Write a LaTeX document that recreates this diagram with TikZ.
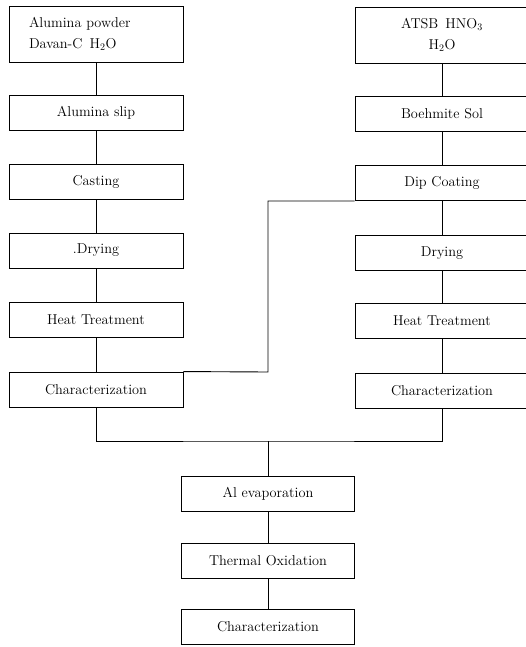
\documentclass[tikz,border=0pt]{standalone}
\usepackage{tikz}

\tikzset{
  box/.style={draw, line width=0.9pt, minimum width=174pt, minimum height=35pt,
    inner sep=0pt, font=\fontsize{14.3}{21}\selectfont},
  link/.style={line width=0.9pt}
}

\begin{document}
\begin{tikzpicture}[x=1pt,y=-1pt]
        \useasboundingbox (0,0) rectangle (525,647);

        % Left column
        \node[box, minimum height=56pt, text width=134pt, inner xsep=20pt, align=left] (l1) at (96,34)
          {Alumina powder\\Davan-C\enspace H$_2$O};
        \node[box] (l2) at (96,112.5) {Alumina\ slip};
        \node[box] (l3) at (96,181.5) {Casting};
        \node[box] (l4) at (96,250.5) {.Drying};
        \node[box] (l5) at (96,320) {Heat\ Treatment};
        \node[box] (l6) at (96,389.5) {Characterization};

        % Right column
        \node[box, minimum height=56pt, align=center] (r1) at (442,35)
          {ATSB\enspace HNO$_3$\\H$_2$O};
        \node[box] (r2) at (442,113.5) {Boehmite Sol};
        \node[box] (r3) at (442,183) {Dip Coating};
        \node[box] (r4) at (442,253) {Drying};
        \node[box] (r5) at (442,321) {Heat\ Treatment};
        \node[box] (r6) at (442,390.5) {Characterization};

        % Bottom column
        \node[box, minimum width=173pt] (c1) at (268,493.5) {Al evaporation};
        \node[box, minimum width=173pt] (c2) at (268,561) {Thermal\ Oxidation};
        \node[box, minimum width=173pt] (c3) at (268,626.5) {Characterization};

        % Links
        \draw[link] (l1) -- (l2) -- (l3) -- (l4) -- (l5) -- (l6);
        \draw[link] (r1) -- (r2) -- (r3) -- (r4) -- (r5) -- (r6);
        \draw[link] (c1) -- (c2) -- (c3);

        \coordinate (bend) at (268,372);
        \draw[link] (l6.north east) -- (bend) |- (r3.south west);

        \coordinate (join) at (268,441);
        \draw[link] (l6.south) |- (join) -| (r6.south);
        \draw[link] (join) -- (c1.north);
    \end{tikzpicture}
\end{document}
